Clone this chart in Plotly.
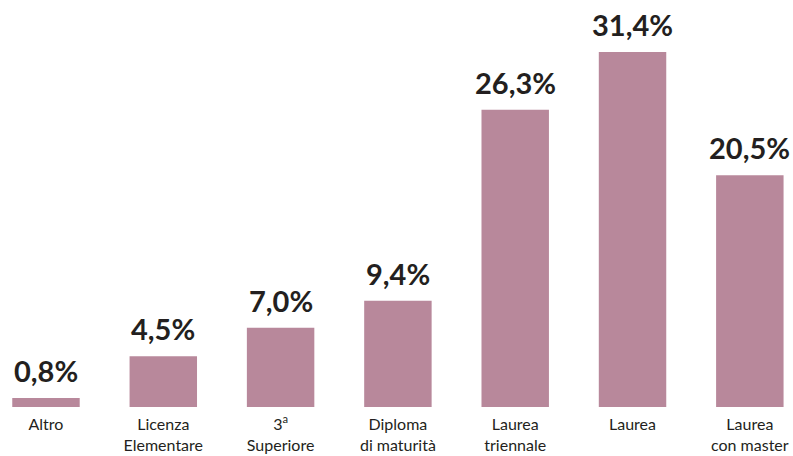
import plotly.graph_objects as go

categories = ["Altro", "Licenza<br>Elementare", "3<sup>a</sup><br>Superiore", "Diploma<br>di maturità",
              "Laurea<br>triennale", "Laurea", "Laurea<br>con master"]
values = [0.8, 4.5, 7.0, 9.4, 26.3, 31.4, 20.5]
labels = ["0,8%", "4,5%", "7,0%", "9,4%", "26,3%", "31,4%", "20,5%"]

x_idx = list(range(len(categories)))

fig = go.Figure(go.Bar(
    x=x_idx, y=values, marker=dict(color="#b8889b", line=dict(width=0)),
    width=0.575, hoverinfo="skip",
))

for xi, v, t in zip(x_idx, values, labels):
    fig.add_annotation(x=xi, y=v, text=f"<b>{t}</b>", showarrow=False,
                       yanchor="bottom", yshift=8,
                       font=dict(family="Lato", size=29, color="#231f20"))

fig.update_layout(
    width=793, height=456,
    margin=dict(l=0, r=0, t=0, b=49),
    plot_bgcolor="white", paper_bgcolor="white",
    showlegend=False,
    xaxis=dict(range=[-0.392, 6.368], tickmode="array", tickvals=x_idx, ticktext=categories,
               showgrid=False, zeroline=False, showline=False, ticks="",
               ticklabelstandoff=6, automargin=False,
               tickfont=dict(family="Lato", size=16, color="#231f20")),
    yaxis=dict(range=[0, 36.0], visible=False, showgrid=False, zeroline=False, automargin=False),
)

fig.write_html("out.html", config={"displayModeBar": False},
               post_script="document.body.style.margin='0';document.body.style.overflow='hidden';")
